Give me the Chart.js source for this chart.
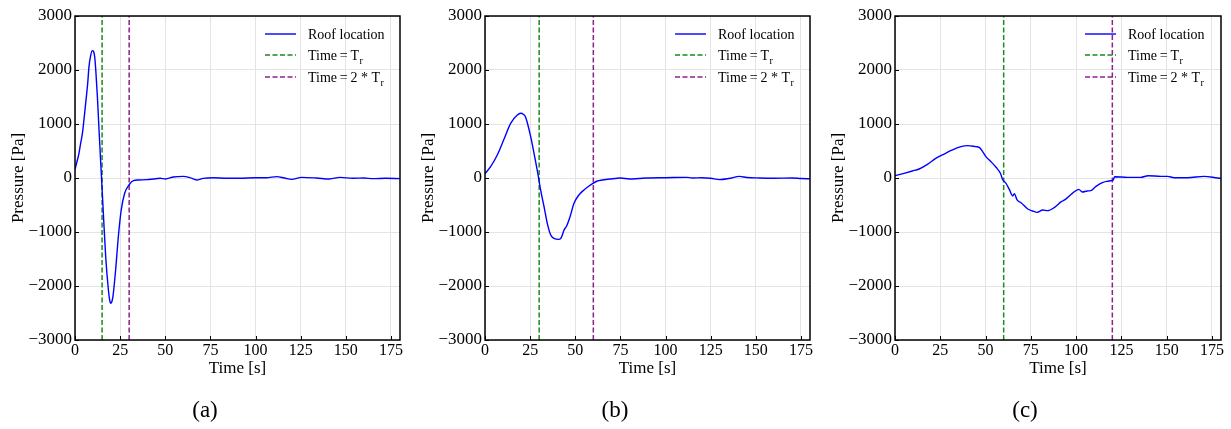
<!DOCTYPE html>
<html>
<head>
<meta charset="utf-8">
<script src="https://cdn.jsdelivr.net/npm/chart.js@4.4.1/dist/chart.umd.min.js"></script>
<style>
  body { margin: 0; background: #fff; }
  #wrap { position: relative; width: 1231px; height: 429px; }
  canvas { position: absolute; top: 0; }
  .cap { position: absolute; top: 396px; width: 410px; text-align: center;
         font: 23px 'Liberation Serif', serif; color: #000; line-height: 28px; }
</style>
</head>
<body>
<div id="wrap">
  <canvas id="chartA" width="410" height="429" style="left:0px"></canvas>
  <canvas id="chartB" width="410" height="429" style="left:410px"></canvas>
  <canvas id="chartC" width="411" height="429" style="left:820px"></canvas>
  <div class="cap" style="left:0px">(a)</div>
  <div class="cap" style="left:410px">(b)</div>
  <div class="cap" style="left:820px">(c)</div>
</div>
<script>
// values
const timeA = [0, 1, 2.2, 3, 4.1, 5, 5.9, 7, 7.75, 8.7, 9.6, 10.3, 10.9, 11.6, 12.4, 13.5, 14.6, 15.7, 17.0, 18.5, 19.2, 19.8, 20.4, 21.0, 22.5, 24.0, 25.6, 27.5, 29.9, 32.3, 35.4, 40, 43.4, 47.1, 50, 54.5, 60, 63.7, 67.4, 71, 76.6, 84, 91.4, 99.7, 106, 111.7, 116, 120, 125.5, 133.8, 140.9, 146.8, 154, 160, 165.2, 172, 180]
const pressA = [160, 290, 457, 620, 827, 1090, 1383, 1740, 2062, 2270, 2358, 2340, 2247, 1950, 1506, 765, 60, -654, -1457, -2074, -2260, -2320, -2290, -2198, -1704, -1087, -593, -283, -130, -50, -37, -30, -18, -6, -18, 19, 31, 6, -37, -6, 6, -6, -6, 6, 6, 25, 0, -25, 12, 0, -18, 12, -6, 0, -12, -5, -12]

const timeB = [0, 3.1, 6.8, 10.5, 14.2, 17.9, 19.8, 21.2, 22.5, 25.3, 27.5, 29.4, 30.8, 32.7, 34.5, 36.4, 38.2, 41, 42.3, 43.8, 45.2, 47.1, 49.3, 52, 54.8, 57.6, 59.8, 62.2, 65, 69, 72, 75, 80, 85, 90, 100, 111.7, 115, 120, 125, 130, 135, 141, 145, 152, 160, 170, 175, 180]
const pressB = [80, 210, 426, 716, 1012, 1167, 1198, 1180, 1124, 765, 395, 56, -222, -531, -840, -1056, -1117, -1136, -1100, -963, -889, -716, -469, -315, -222, -148, -99, -56, -37, -18, -10, 0, -18, -10, 0, 5, 12, 0, 5, -5, -30, -10, 30, 10, 0, -5, 0, -10, -15]

const timeC = [0, 5, 9.6, 13.3, 17.9, 22.5, 27.1, 31.7, 36.4, 40.1, 44.7, 46.5, 48.4, 50.2, 53, 55.8, 58.2, 59.4, 61.3, 63.1, 65, 65.9, 67.4, 69.6, 73.3, 76, 78.5, 81.6, 84.3, 88.1, 91.8, 94.1, 97.9, 101.5, 103.4, 106.1, 108, 110.8, 114.5, 117, 119.1, 120.5, 121.3, 128.3, 135.7, 139.8, 146.8, 150.5, 154.1, 161.5, 170.7, 178.1, 180]
const pressC = [43, 87, 130, 167, 253, 364, 444, 519, 580, 599, 580, 568, 488, 395, 302, 198, 87, -25, -99, -210, -333, -290, -407, -457, -574, -611, -636, -593, -605, -543, -438, -395, -284, -210, -259, -240, -235, -161, -87, -62, -50, -35, 24, 12, 12, 43, 30, 30, 6, 6, 30, 0, -6]

const releaseTimes = [15, 30, 60]   // T_r for (a), (b), (c)
const xTickValues = [0, 25, 50, 75, 100, 125, 150, 175]
const yTickValues = [-3000, -2000, -1000, 0, 1000, 2000, 3000]
const legendLabels = ['Roof location', 'Time\u2009=\u2009T', 'Time\u2009=\u20092 * T']

const SERIF = "'Liberation Serif', 'Times New Roman', serif"
const GREEN = '#1a8c1a'
const PURPLE = '#8e1f8e'

const framePlugin = {
    id: 'frame',
    afterDraw(chart){
        const {ctx, chartArea: a, scales} = chart
        ctx.save()
        // inward ticks
        ctx.strokeStyle = '#000'
        ctx.lineWidth = 1
        ctx.beginPath()
        xTickValues.forEach(v => {
            const x = Math.round(scales.x.getPixelForValue(v)) + 0.5
            ctx.moveTo(x, a.bottom); ctx.lineTo(x, a.bottom - 4)
        })
        yTickValues.forEach(v => {
            const y = Math.round(scales.y.getPixelForValue(v)) + 0.5
            ctx.moveTo(a.left, y); ctx.lineTo(a.left + 4, y)
        })
        ctx.stroke()
        // box
        ctx.lineWidth = 1.5
        ctx.strokeRect(a.left, a.top, a.right - a.left, a.bottom - a.top)

        // legend
        const rows = [a.top + 18, a.top + 39, a.top + 61]
        const x0 = a.left + 190, x1 = a.left + 221, tx = a.left + 233
        chart.data.datasets.forEach((ds, i) => {
            ctx.strokeStyle = ds.borderColor
            ctx.lineWidth = ds.borderWidth
            ctx.setLineDash(ds.borderDash || [])
            ctx.beginPath()
            ctx.moveTo(x0, rows[i]); ctx.lineTo(x1, rows[i])
            ctx.stroke()
            ctx.setLineDash([])
            ctx.fillStyle = '#000'
            ctx.textBaseline = 'middle'
            ctx.textAlign = 'left'
            ctx.font = '14px ' + SERIF
            ctx.fillText(legendLabels[i], tx, rows[i] + 1)
            if(i > 0){
                const w = ctx.measureText(legendLabels[i]).width
                ctx.font = '10px ' + SERIF
                ctx.fillText('r', tx + w + 0.5, rows[i] + 6)
            }
        })
        ctx.restore()
    }
}

function fmt(v){
    return (v < 0 ? '\u2212' : '') + Math.abs(v)
}

function makeChart(id, times, press, tr){
    const curve = times.map((t, i) => ({x: t, y: press[i]}))
    return new Chart(document.getElementById(id), {
        type: 'line',
        data: {
            datasets: [{
                label: legendLabels[0],
                data: curve,
                borderColor: '#0000ff',
                borderWidth: 1.4,
                pointRadius: 0,
                cubicInterpolationMode: 'monotone'
            },{
                label: legendLabels[1],
                data: [{x: tr, y: -3000}, {x: tr, y: 3000}],
                borderColor: GREEN,
                borderWidth: 1.5,
                borderDash: [5, 2.5],
                pointRadius: 0
            },{
                label: legendLabels[2],
                data: [{x: 2 * tr, y: -3000}, {x: 2 * tr, y: 3000}],
                borderColor: PURPLE,
                borderWidth: 1.5,
                borderDash: [5, 2.5],
                pointRadius: 0
            }]
        },
        options: {
            responsive: false,
            animation: false,
            devicePixelRatio: 1,
            layout: {padding: {top: 16, right: 10, left: 0, bottom: 49}},
            plugins: {legend: {display: false}, tooltip: {enabled: false}},
            scales: {
                x: {
                    type: 'linear',
                    min: 0, max: 180,
                    afterBuildTicks: s => { s.ticks = xTickValues.map(v => ({value: v})) },
                    afterFit: s => { s.height = 40 },
                    grid: {color: '#e4e4e4', lineWidth: 1, drawTicks: false},
                    border: {display: false},
                    ticks: {padding: 1, color: '#000', font: {family: SERIF, size: 16}, maxRotation: 0, autoSkip: false},
                    title: {display: true, text: 'Time [s]', color: '#000', font: {family: SERIF, size: 17}, padding: {top: 0, bottom: 1}}
                },
                y: {
                    min: -3000, max: 3000,
                    afterBuildTicks: s => { s.ticks = yTickValues.map(v => ({value: v})) },
                    afterFit: s => { s.width = 75 },
                    grid: {color: '#e4e4e4', lineWidth: 1, drawTicks: false},
                    border: {display: false},
                    ticks: {padding: 3, color: '#000', font: {family: SERIF, size: 17}, callback: v => fmt(v)},
                    title: {display: true, text: 'Pressure [Pa]', color: '#000', font: {family: SERIF, size: 17}, padding: {top: 8, bottom: 0}}
                }
            }
        },
        plugins: [framePlugin]
    })
}

makeChart('chartA', timeA, pressA, releaseTimes[0])
makeChart('chartB', timeB, pressB, releaseTimes[1])
makeChart('chartC', timeC, pressC, releaseTimes[2])
</script>
</body>
</html>
